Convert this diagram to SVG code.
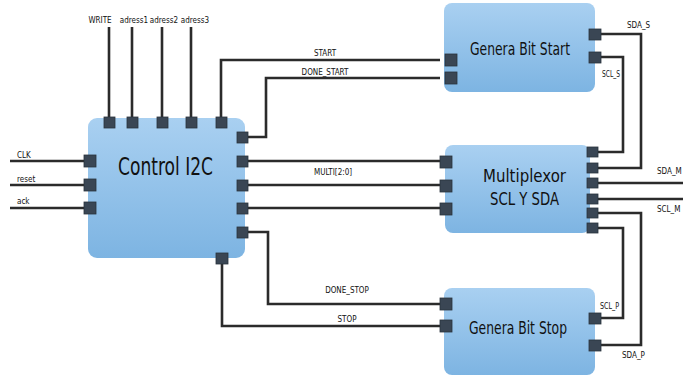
<svg xmlns="http://www.w3.org/2000/svg" width="683" height="377" viewBox="0 0 683 377">
<defs>
<linearGradient id="g" x1="0" y1="0" x2="0" y2="1">
<stop offset="0" stop-color="#a9d0f1"/>
<stop offset="1" stop-color="#7db4e2"/>
</linearGradient>
<style>
.box{fill:url(#g);}
.port{fill:#3a4654;stroke:#2a323c;stroke-width:0.8;}
.w{fill:none;stroke:#2b2b2b;stroke-width:2.6;stroke-linejoin:miter;}
.t{font-family:"DejaVu Sans Condensed","Liberation Sans Narrow","Liberation Sans",sans-serif;fill:#111;}
.s{font-size:8px;}
</style>
</defs>
<rect width="683" height="377" fill="#ffffff"/>
<g id="connectors">
<path class="w" d="M109,27 V118"/>
<path class="w" d="M132,27 V118"/>
<path class="w" d="M162,27 V118"/>
<path class="w" d="M191,27 V118"/>
<path class="w" d="M221,118 V60 H440"/>
<path class="w" d="M248,137 H266 V78 H440"/>
<path class="w" d="M10,161 H84"/>
<path class="w" d="M10,185 H84"/>
<path class="w" d="M10,208 H84"/>
<path class="w" d="M248,161 H440"/>
<path class="w" d="M248,185 H440"/>
<path class="w" d="M248,208 H440"/>
<path class="w" d="M248,232 H268 V304 H440"/>
<path class="w" d="M222,263 V326 H440"/>
<path class="w" d="M601,34 H641 V168 H598"/>
<path class="w" d="M601,57 H623 V152 H598"/>
<path class="w" d="M598,183 H683"/>
<path class="w" d="M598,199 H683"/>
<path class="w" d="M598,213 H641 V345 H601"/>
<path class="w" d="M598,228 H623 V318 H601"/>
<text class="t s" x="100" y="23" text-anchor="middle">WRITE</text>
<text class="t s" x="134" y="23" text-anchor="middle">adress1</text>
<text class="t s" x="164" y="23" text-anchor="middle">adress2</text>
<text class="t s" x="195" y="23" text-anchor="middle">adress3</text>
<text class="t s" x="325" y="56" text-anchor="middle">START</text>
<text class="t s" x="325" y="75" text-anchor="middle">DONE_START</text>
<text class="t s" x="17" y="158">CLK</text>
<text class="t s" x="17" y="182">reset</text>
<text class="t s" x="17" y="204">ack</text>
<text class="t s" x="333" y="175" text-anchor="middle">MULTI[2:0]</text>
<text class="t s" x="347" y="293" text-anchor="middle">DONE_STOP</text>
<text class="t s" x="347" y="322" text-anchor="middle">STOP</text>
<text class="t s" x="627" y="28">SDA_S</text>
<text class="t s" x="602" y="77" textLength="18" lengthAdjust="spacingAndGlyphs">SCL_S</text>
<text class="t s" x="657" y="174">SDA_M</text>
<text class="t s" x="657" y="212">SCL_M</text>
<text class="t s" x="600" y="309" textLength="19" lengthAdjust="spacingAndGlyphs">SCL_P</text>
<text class="t s" x="622" y="358">SDA_P</text>
</g>
<g id="control">
<rect class="box" x="88" y="118" width="157" height="140" rx="9"/>
<rect class="port" x="104" y="117" width="11" height="11"/>
<rect class="port" x="127" y="117" width="11" height="11"/>
<rect class="port" x="157" y="117" width="11" height="11"/>
<rect class="port" x="186" y="117" width="11" height="11"/>
<rect class="port" x="216" y="117" width="11" height="11"/>
<rect class="port" x="84" y="155" width="12" height="12"/>
<rect class="port" x="84" y="179" width="12" height="12"/>
<rect class="port" x="84" y="202" width="12" height="12"/>
<rect class="port" x="237" y="132" width="11" height="11"/>
<rect class="port" x="237" y="156" width="11" height="11"/>
<rect class="port" x="237" y="180" width="11" height="11"/>
<rect class="port" x="237" y="203" width="11" height="11"/>
<rect class="port" x="237" y="227" width="11" height="11"/>
<rect class="port" x="216" y="253" width="12" height="11"/>
<text class="t" x="118" y="175" font-size="25" textLength="95" lengthAdjust="spacingAndGlyphs">Control I2C</text>
</g>
<g id="start">
<rect class="box" x="444" y="3" width="151" height="89" rx="8"/>
<rect class="port" x="445" y="54" width="12" height="12"/>
<rect class="port" x="445" y="72" width="12" height="12"/>
<rect class="port" x="589" y="29" width="12" height="11"/>
<rect class="port" x="589" y="52" width="12" height="11"/>
<text class="t" x="470" y="55" font-size="18" textLength="100" lengthAdjust="spacingAndGlyphs">Genera Bit Start</text>
</g>
<g id="mux">
<rect class="box" x="445" y="145" width="145" height="88" rx="8"/>
<rect class="port" x="440" y="156" width="12" height="12"/>
<rect class="port" x="440" y="180" width="12" height="12"/>
<rect class="port" x="440" y="203" width="12" height="12"/>
<rect class="port" x="587" y="147" width="11" height="10"/>
<rect class="port" x="587" y="163" width="11" height="10"/>
<rect class="port" x="587" y="178" width="11" height="10"/>
<rect class="port" x="587" y="194" width="11" height="10"/>
<rect class="port" x="587" y="208" width="11" height="10"/>
<rect class="port" x="587" y="223" width="11" height="10"/>
<text class="t" x="483" y="182" font-size="17" textLength="83" lengthAdjust="spacingAndGlyphs">Multiplexor</text>
<text class="t" x="490" y="205" font-size="17" textLength="69" lengthAdjust="spacingAndGlyphs">SCL Y SDA</text>
</g>
<g id="stop">
<rect class="box" x="444" y="288" width="151" height="87" rx="8"/>
<rect class="port" x="440" y="298" width="12" height="12"/>
<rect class="port" x="440" y="320" width="12" height="12"/>
<rect class="port" x="589" y="313" width="12" height="11"/>
<rect class="port" x="589" y="340" width="12" height="11"/>
<text class="t" x="469" y="334" font-size="18" textLength="98" lengthAdjust="spacingAndGlyphs">Genera Bit Stop</text>
</g>
</svg>
